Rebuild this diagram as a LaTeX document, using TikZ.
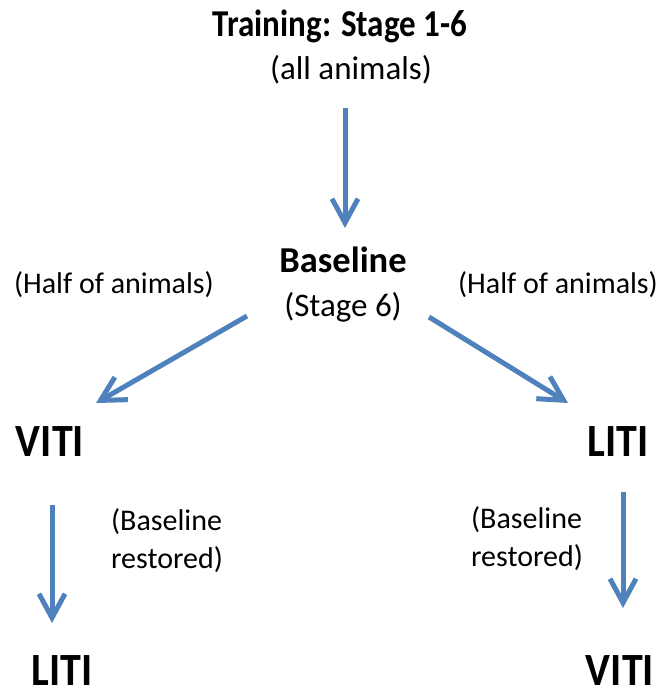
\documentclass[tikz,border=0pt]{standalone}
\usepackage{fontspec}
\setmainfont{Carlito}
\usetikzlibrary{arrows.meta}
\definecolor{arrowblue}{HTML}{4F81BD}
\newcommand\tallbox[2]{\scalebox{1}[#1]{#2}}
\tikzset{
  flow/.style={draw=arrowblue, line width=5pt, -{Straight Barb[length=24pt,width=26pt,line width=5pt]}},
  boldlbl/.style={font=\bfseries\fontsize{33}{40}\selectfont, inner sep=0pt, anchor=base},
  biglbl/.style={font=\bfseries\fontsize{42}{50}\selectfont, inner sep=0pt, anchor=base},
  sublbl/.style={font=\fontsize{33}{40}\selectfont, inner sep=0pt, anchor=base},
  notelbl/.style={font=\fontsize{30}{38}\selectfont, inner sep=0pt, align=left, anchor=center}
}
\begin{document}
\begin{tikzpicture}[x=1pt,y=-1pt]
\useasboundingbox (0,0) rectangle (659,694);
% texts
\node[boldlbl] (train) at (340,36.7) {\tallbox{1.15}{Training: Stage 1-6}};
\node[sublbl] (all) at (351,79) {(all animals)};
\node[boldlbl, font=\bfseries\fontsize{36.5}{40}\selectfont] (base) at (343,272.5) {Baseline};
\node[sublbl] (stage) at (343,316) {(Stage 6)};
\node[notelbl, anchor=base] (halfL) at (114,293) {(Half of animals)};
\node[notelbl, anchor=base] (halfR) at (558,293) {(Half of animals)};
\node[biglbl] (vitiL) at (50,456) {\tallbox{1.1}{VITI}};
\node[biglbl] (litiR) at (618,456) {\tallbox{1.1}{LITI}};
\node[notelbl] (restL) at (167,541) {(Baseline\\restored)};
\node[notelbl] (restR) at (527,539) {(Baseline\\restored)};
\node[biglbl] (litiL) at (62,685) {\tallbox{1.1}{LITI}};
\node[biglbl] (vitiR) at (620,685) {\tallbox{1.1}{VITI}};
% arrow ends
\coordinate (a1s) at (345,108);
\coordinate (a1e) at (345,228);
\coordinate (a2s) at (247,316);
\coordinate (a2e) at (96,403);
\coordinate (a3s) at (429,317);
\coordinate (a3e) at (568,403);
\coordinate (a4s) at (52,505);
\coordinate (a4e) at (52,623);
\coordinate (a5s) at (623,492);
\coordinate (a5e) at (623,608);
% arrows
\draw[flow] (a1s) -- (a1e);
\draw[flow] (a2s) -- (a2e);
\draw[flow] (a3s) -- (a3e);
\draw[flow] (a4s) -- (a4e);
\draw[flow] (a5s) -- (a5e);
\end{tikzpicture}
\end{document}
